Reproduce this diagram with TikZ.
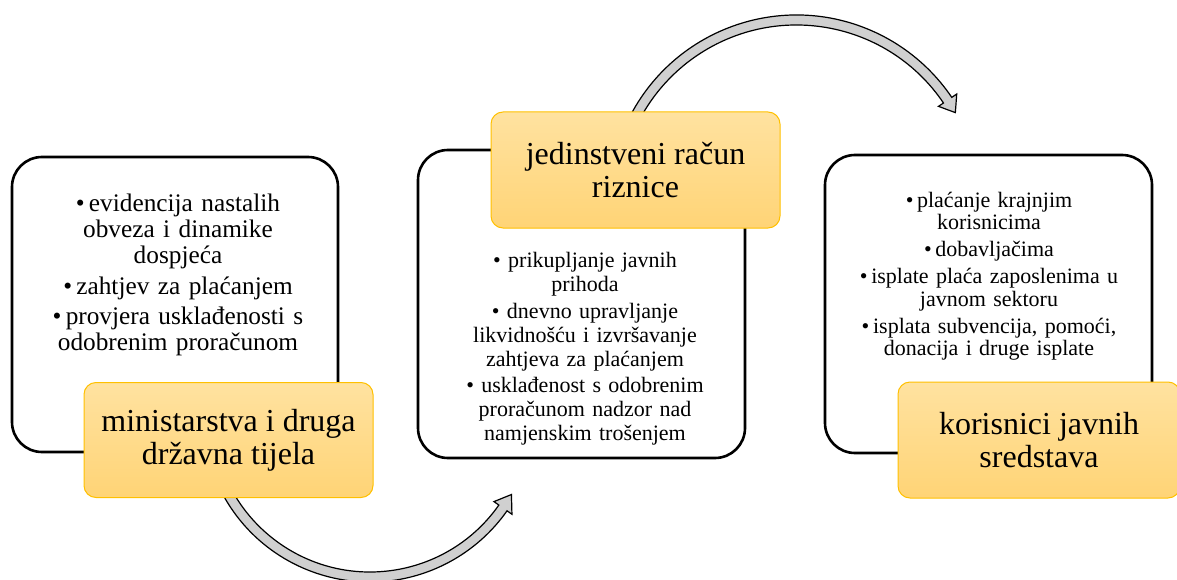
\documentclass[tikz,border=0pt]{standalone}
\usepackage{fontspec}
\setmainfont{Liberation Serif}
\usetikzlibrary{calc}
\definecolor{orfillA}{RGB}{255,226,160}
\definecolor{orfillB}{RGB}{255,212,118}
\definecolor{orline}{RGB}{255,192,0}
\definecolor{arrgray}{RGB}{208,208,208}
\tikzset{
 whitebox/.style={draw=black, line width=2.6pt, rounded corners=30pt, fill=white, inner sep=0pt},
 titlebox/.style={draw=orline, line width=1pt, rounded corners=12pt, top color=orfillA, bottom color=orfillB, align=center, font=\fontsize{32}{33}\selectfont, inner sep=0pt},
 bodytext/.style={align=center, inner sep=0pt, text width=310pt},
 blockarrow/.style={draw=black, line width=1.2pt, fill=arrgray, line join=miter},
}
\begin{document}
\begin{tikzpicture}[x=1pt,y=-1pt]
\useasboundingbox (0,0) rectangle (1177,580);
% white boxes
\node[whitebox, minimum width=326pt, minimum height=295pt] (wl) at (175,304.5) {};
\node[whitebox, minimum width=327pt, minimum height=308pt] (wm) at (581.5,304) {};
\node[whitebox, minimum width=327pt, minimum height=298pt] (wr) at (988.5,304) {};
% body texts
\node[bodytext, font=\fontsize{25.3}{26}\selectfont] (tl) at (178,274.5) {%
\textbullet\,evidencija nastalih\\obveza i dinamike\\dospjeća\\[5pt]%
\textbullet\,zahtjev za plaćanjem\\[4pt]%
\textbullet\,provjera usklađenosti s\\odobrenim proračunom};
\node[bodytext, font=\fontsize{22}{24}\selectfont] (tm) at (585,349) {%
\textbullet{} prikupljanje javnih\\prihoda\\[2.5pt]%
\textbullet{} dnevno upravljanje\\likvidnošću i izvršavanje\\zahtjeva za plaćanjem\\[2.5pt]%
\textbullet{} usklađenost s odobrenim\\proračunom nadzor nad\\namjenskim trošenjem};
\node[bodytext, font=\fontsize{22}{22.5}\selectfont] (tr) at (989,276) {%
\textbullet\,plaćanje krajnjim\\korisnicima\\[4.5pt]%
\textbullet\,dobavljačima\\[4.5pt]%
\textbullet\,isplate plaća zaposlenima u\\javnom sektoru\\[4.5pt]%
\textbullet\,isplata subvencija, pomoći,\\donacija i druge isplate};
% block arrows
\coordinate (c1) at (370,414.5);
\coordinate (c2) at (796.5,202.5);
\draw[blockarrow] ($(c1)+(152:167.5)$) arc[start angle=152, end angle=35.1, radius=167.5]
  -- ($(c1)+(35.1:173.5)$) -- ($(c1)+(29.5:162.5)$) -- ($(c1)+(35.1:151.5)$)
  -- ($(c1)+(35.1:157.5)$) arc[start angle=35.1, end angle=152, radius=157.5] -- cycle;
\draw[blockarrow] ($(c2)+(205:187.5)$) arc[start angle=205, end angle=325.9, radius=187.5]
  -- ($(c2)+(325.9:193.5)$) -- ($(c2)+(330.5:182.5)$) -- ($(c2)+(325.9:171.5)$)
  -- ($(c2)+(325.9:177.5)$) arc[start angle=325.9, end angle=205, radius=177.5] -- cycle;
% title boxes
\node[titlebox, minimum width=289pt, minimum height=115pt] (ol) at (228.5,440) {ministarstva i druga\\državna tijela};
\node[titlebox, minimum width=289pt, minimum height=116pt] (om) at (635.5,170) {jedinstveni račun\\riznice};
\node[titlebox, minimum width=282pt, minimum height=116pt] (or) at (1039,440) {korisnici javnih\\sredstava};
\end{tikzpicture}
\end{document}
